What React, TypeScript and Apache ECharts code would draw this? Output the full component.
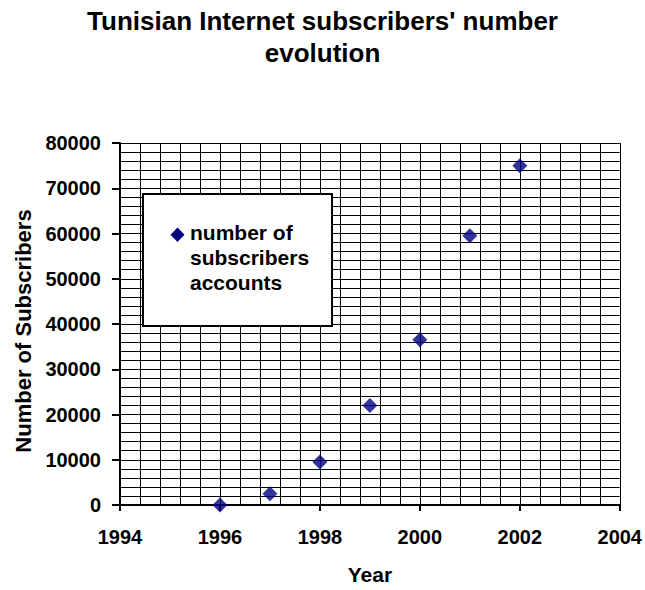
import React, { useEffect, useRef } from "react";
import * as echarts from "echarts";

const years = [1996, 1997, 1998, 1999, 2000, 2001, 2002];
const subscribers = [0, 2500, 9500, 22000, 36500, 59500, 75000];
const titleText = "Tunisian Internet subscribers' number\nevolution";
const seriesName = "number of\nsubscribers\naccounts";
const xAxisName = "Year";
const yAxisName = "Number of Subscribers";

const FONT = "'Liberation Sans', Arial, Helvetica, sans-serif";

export default function App() {
  const ref = useRef<HTMLDivElement>(null);
  useEffect(() => {
    if (!ref.current) return;
    const chart = echarts.init(ref.current, undefined, { renderer: "svg" });
    const data = years.map((y, i) => [y, subscribers[i]]);
    const gridLine = { show: true, lineStyle: { color: "#000", width: 1 } };
    chart.setOption({
      animation: false,
      backgroundColor: "#fff",
      textStyle: { fontFamily: FONT },
      title: {
        text: titleText,
        left: "center",
        top: 0,
        textStyle: {
          fontFamily: FONT,
          fontSize: 26,
          fontWeight: "bold",
          color: "#000",
          lineHeight: 32,
        },
      },
      grid: { left: 120, top: 143, right: 23, bottom: 81, containLabel: false },
      xAxis: {
        type: "value",
        min: 1994,
        max: 2004,
        interval: 2,
        name: xAxisName,
        nameLocation: "middle",
        nameGap: 59,
        nameTextStyle: { fontFamily: FONT, fontSize: 21, fontWeight: "bold", color: "#000" },
        axisLine: { show: true, onZero: false, lineStyle: { color: "#000", width: 2 } },
        axisTick: { show: true, length: 6, lineStyle: { color: "#000", width: 2 } },
        axisLabel: {
          margin: 22,
          fontFamily: FONT,
          fontSize: 20,
          fontWeight: "bold",
          color: "#000",
          formatter: (v: number) => String(v),
        },
        splitLine: gridLine,
        minorTick: { show: false, splitNumber: 5 },
        minorSplitLine: gridLine,
      },
      yAxis: {
        type: "value",
        min: 0,
        max: 80000,
        interval: 10000,
        name: yAxisName,
        nameLocation: "middle",
        nameGap: 86,
        nameTextStyle: {
          fontFamily: FONT,
          fontSize: 22,
          fontWeight: "bold",
          color: "#000",
          padding: [0, 14, 0, 0],
        },
        axisLine: { show: true, lineStyle: { color: "#000", width: 2 } },
        axisTick: { show: true, length: 8, lineStyle: { color: "#000", width: 2 } },
        axisLabel: {
          margin: 19,
          fontFamily: FONT,
          fontSize: 20,
          fontWeight: "bold",
          color: "#000",
          formatter: (v: number) => String(v),
        },
        splitLine: gridLine,
        minorTick: { show: false, splitNumber: 5 },
        minorSplitLine: gridLine,
      },
      series: [
        {
          name: seriesName,
          type: "scatter",
          symbol: "diamond",
          symbolSize: 15,
          itemStyle: { color: "#000080" },
          data,
          z: 10,
        },
      ],
      graphic: [
        {
          type: "rect",
          z: 100,
          shape: { x: 143, y: 194, width: 189, height: 132 },
          style: { fill: "#fff", stroke: "#000", lineWidth: 2 },
        },
        {
          type: "polygon",
          z: 101,
          shape: {
            points: [
              [177.5, 227.5],
              [184.5, 234.7],
              [177.5, 241.9],
              [170.5, 234.7],
            ],
          },
          style: { fill: "#000080" },
        },
        {
          type: "text",
          z: 101,
          x: 190,
          y: 220,
          style: {
            text: seriesName,
            fontFamily: FONT,
            fontSize: 21,
            fontWeight: "bold",
            fill: "#000",
            lineHeight: 25,
            verticalAlign: "top",
            align: "left",
          },
        },
      ],
    });
    return () => chart.dispose();
  }, []);
  return (
    <div
      ref={ref}
      style={{ position: "fixed", left: 0, top: 0, width: 645, height: 590 }}
    />
  );
}
